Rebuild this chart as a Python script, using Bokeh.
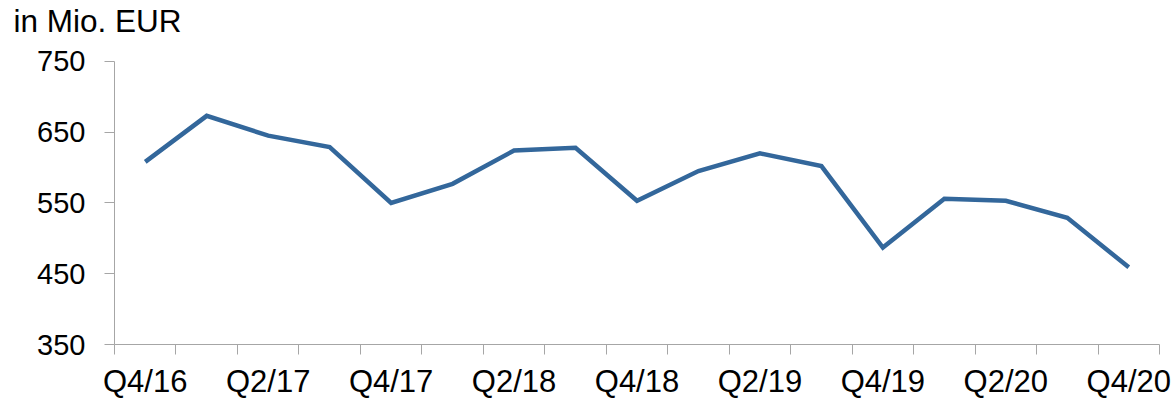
from bokeh.plotting import figure
from bokeh.models import Range1d, FixedTicker, ColumnDataSource, Title
from bokeh.embed import file_html
from bokeh.resources import INLINE

quarters = ["Q4/16", "Q1/17", "Q2/17", "Q3/17", "Q4/17", "Q1/18", "Q2/18", "Q3/18",
            "Q4/18", "Q1/19", "Q2/19", "Q3/19", "Q4/19", "Q1/20", "Q2/20", "Q3/20", "Q4/20"]
values = [608, 673, 645, 629, 550, 577, 624, 628, 553, 595, 620, 602, 487, 556, 553, 529, 459]
y_ticks = [350, 450, 550, 650, 750]
unit_label = "in Mio. EUR"

idx = list(range(len(quarters)))
label_idx = idx[::2]
overrides = {i: quarters[i] for i in label_idx}

FONT = "Liberation Sans"
AXIS_COLOR = "#a6a6a6"
LINE_COLOR = "#33679b"

# frame reaches a little above 750 so the unit label sits close to the top;
# the y axis itself is bounded to 350..750
p = figure(width=1175, height=401, output_backend="svg", toolbar_location=None,
           x_range=Range1d(-0.5, len(quarters) - 0.5), y_range=Range1d(350, 779.4),
           min_border_left=114, min_border_right=16, min_border_top=40, min_border_bottom=54)
p.outline_line_color = None
p.xgrid.visible = False
p.ygrid.visible = False
p.background_fill_color = "white"
p.border_fill_color = "white"

unit_title = Title(text=unit_label, align="left", offset=-101, vertical_align="top",
                   standoff=0, text_font=FONT, text_font_size="31.5px",
                   text_font_style="normal", text_color="black")
p.add_layout(unit_title, "above")

src = ColumnDataSource(dict(x=idx, y=values))
p.line("x", "y", source=src, line_color=LINE_COLOR, line_width=4.5, line_join="miter")

# x axis
xa = p.below[0]
xa.ticker = FixedTicker(ticks=label_idx, minor_ticks=[i - 0.5 for i in range(len(quarters) + 1)])
xa.major_label_overrides = overrides
xa.major_tick_out = 0
xa.major_tick_in = 0
xa.minor_tick_out = 10
xa.minor_tick_in = 0
xa.minor_tick_line_color = AXIS_COLOR
xa.axis_line_color = AXIS_COLOR
xa.major_label_text_font = FONT
xa.major_label_text_font_size = "31px"
xa.major_label_text_color = "black"
xa.major_label_standoff = 9

# y axis
ya = p.left[0]
ya.bounds = (y_ticks[0], y_ticks[-1])
ya.ticker = FixedTicker(ticks=y_ticks, minor_ticks=[])
ya.major_tick_out = 10
ya.major_tick_in = 0
ya.major_tick_line_color = AXIS_COLOR
ya.axis_line_color = AXIS_COLOR
ya.minor_tick_line_color = None
ya.major_label_text_font = FONT
ya.major_label_text_font_size = "29px"
ya.major_label_text_color = "black"
ya.major_label_standoff = 19

open("out.html", "w").write(file_html(p, INLINE))
